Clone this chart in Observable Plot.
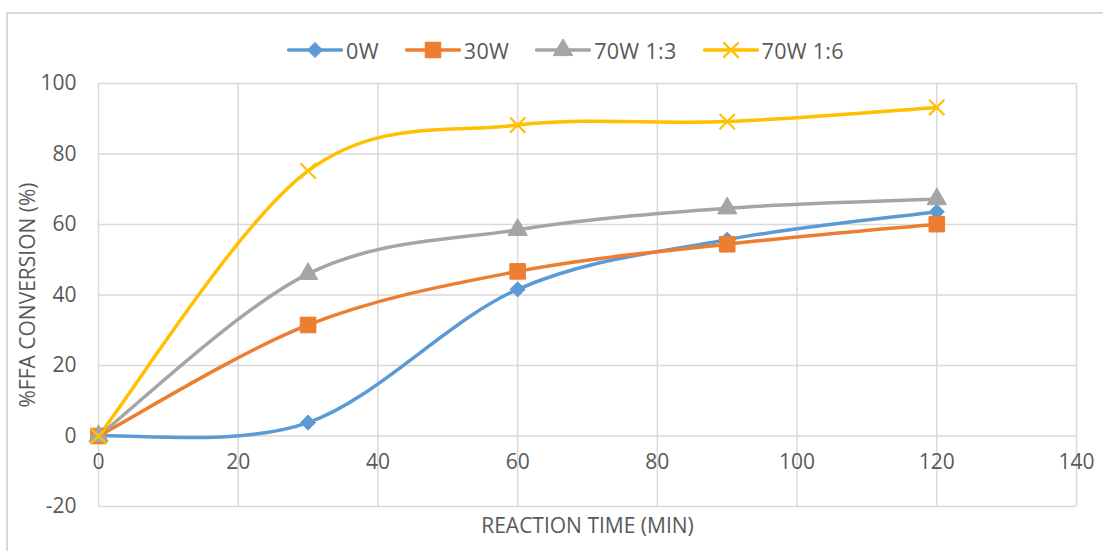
<!DOCTYPE html>
<html>
<head>
<meta charset="utf-8">
<script src="https://cdn.jsdelivr.net/npm/d3@7"></script>
<script src="https://cdn.jsdelivr.net/npm/@observablehq/plot@0.6"></script>
<style>
  html, body { margin: 0; padding: 0; background: #fff; }
  #wrap { position: relative; width: 1103px; height: 551px; overflow: hidden; font-family: "Open Sans", sans-serif; }
  #frame { position: absolute; left: 6px; top: 12px; width: 1110px; height: 560px; border: 2px solid #d9d9d9; box-sizing: border-box; }
  #legend { position: absolute; left: 0; top: 35px; width: 1103px; height: 30px; display: flex; justify-content: center; align-items: center; padding-left: 28px; box-sizing: border-box; font-size: 21.5px; color: #595959; letter-spacing: 0.3px; }
  .item { display: flex; align-items: center; margin: 0 13px; }
  .item svg { margin-right: 3px; }
  #chart { position: absolute; left: 0; top: 0; }
</style>
</head>
<body>
<div id="wrap">
  <div id="frame"></div>
  <div id="chart"></div>
  <div id="legend"></div>
</div>
<script>
const times = [0, 30, 60, 90, 120];
const seriesNames = ["0W", "30W", "70W 1:3", "70W 1:6"];
const values0W = [0, 3.8, 41.6, 55.7, 63.6];
const values30W = [0, 31.5, 46.7, 54.4, 60.1];
const values70W13 = [0, 46, 58.5, 64.6, 67.2];
const values70W16 = [0, 75.2, 88.2, 89.2, 93.2];
const colors = ["#5B9BD5", "#ED7D31", "#A5A5A5", "#FFC000"];
const symbols = ["diamond2", "square", "triangle", "times"];
const xTicks = [0, 20, 40, 60, 80, 100, 120, 140];
const yTicks = [-20, 0, 20, 40, 60, 80, 100];

const allValues = [values0W, values30W, values70W13, values70W16];
const data = [];
seriesNames.forEach((s, i) => times.forEach((t, j) => data.push({series: s, t, v: allValues[i][j]})));

const textColor = "#595959";
const grid = "#d9d9d9";
const fs = 21;
const radii = {"0W": 6.8, "30W": 8.8, "70W 1:3": 7.2, "70W 1:6": 7};

// Spreadsheet-style smoothed line (Bezier, tangents from neighbours, endpoints clamped)
function smoothCurve(context) {
  let pts = [];
  return {
    areaStart() {}, areaEnd() {},
    lineStart() { pts = []; },
    point(x, y) { pts.push([+x, +y]); },
    lineEnd() {
      const n = pts.length;
      if (!n) return;
      context.moveTo(pts[0][0], pts[0][1]);
      const P = i => pts[Math.max(0, Math.min(n - 1, i))];
      for (let i = 0; i < n - 1; i++) {
        const a = P(i - 1), b = P(i), c = P(i + 1), d = P(i + 2);
        context.bezierCurveTo(
          b[0] + (c[0] - a[0]) / 6, b[1] + (c[1] - a[1]) / 6,
          c[0] - (d[0] - b[0]) / 6, c[1] - (d[1] - b[1]) / 6,
          c[0], c[1]);
      }
    }
  };
}

const marks = [
  Plot.ruleY(yTicks, {y: d => d, stroke: grid, strokeWidth: 1.5}),
  Plot.ruleX(xTicks, {x: d => d, stroke: grid, strokeWidth: 1.5}),
  Plot.text(yTicks, {y: d => d, frameAnchor: "left", dx: -22, textAnchor: "end", text: d => String(d), fontSize: fs, fill: textColor}),
  Plot.text(xTicks, {x: d => d, y: 0, dy: 26, text: d => String(d), fontSize: fs, fill: textColor}),
  Plot.text(["%FFA CONVERSION (%)"], {frameAnchor: "left", dx: -70, rotate: -90, textAnchor: "middle", text: d => d, fontSize: fs, fill: textColor}),
  Plot.text(["REACTION TIME (MIN)"], {frameAnchor: "bottom", lineAnchor: "middle", dy: 20, text: d => d, fontSize: fs, fill: textColor}),
];
seriesNames.forEach((s, i) => {
  const d = data.filter(r => r.series === s);
  marks.push(Plot.line(d, {x: "t", y: "v", stroke: colors[i], strokeWidth: 3.5, curve: smoothCurve}));
});
seriesNames.forEach((s, i) => {
  const d = data.filter(r => r.series === s);
  if (symbols[i] === "times") {
    marks.push(Plot.dot(d, {x: "t", y: "v", symbol: "times", r: radii[s], stroke: colors[i], strokeWidth: 2.2, fill: "none"}));
  } else {
    marks.push(Plot.dot(d, {x: "t", y: "v", symbol: symbols[i], r: radii[s], fill: colors[i], stroke: colors[i], strokeWidth: 1}));
  }
});

const chart = Plot.plot({
  width: 1103,
  height: 551,
  marginLeft: 98,
  marginRight: 27,
  marginTop: 83,
  marginBottom: 45,
  x: {domain: [0, 140], axis: null},
  y: {domain: [-20, 100], axis: null},
  style: {background: "transparent", fontFamily: "Open Sans, sans-serif", color: textColor},
  marks
});
document.getElementById("chart").appendChild(chart);

// legend
const legend = document.getElementById("legend");
seriesNames.forEach((s, i) => {
  const item = document.createElement("div");
  item.className = "item";
  const svg = d3.create("svg").attr("width", 56).attr("height", 22);
  svg.append("line").attr("x1", 1.5).attr("x2", 54.5).attr("y1", 11).attr("y2", 11)
    .attr("stroke", colors[i]).attr("stroke-width", 3.5).attr("stroke-linecap", "round");
  const symMap = {diamond2: d3.symbolDiamond2, square: d3.symbolSquare, triangle: d3.symbolTriangle, times: d3.symbolTimes};
  const r = radii[s];
  const path = d3.symbol(symMap[symbols[i]], Math.PI * r * r)();
  const p = svg.append("path").attr("d", path).attr("transform", "translate(28,11)");
  if (symbols[i] === "times") p.attr("fill", "none").attr("stroke", colors[i]).attr("stroke-width", 2.2);
  else p.attr("fill", colors[i]).attr("stroke", colors[i]);
  item.appendChild(svg.node());
  const label = document.createElement("span");
  label.textContent = s;
  item.appendChild(label);
  legend.appendChild(item);
});
</script>
</body>
</html>
